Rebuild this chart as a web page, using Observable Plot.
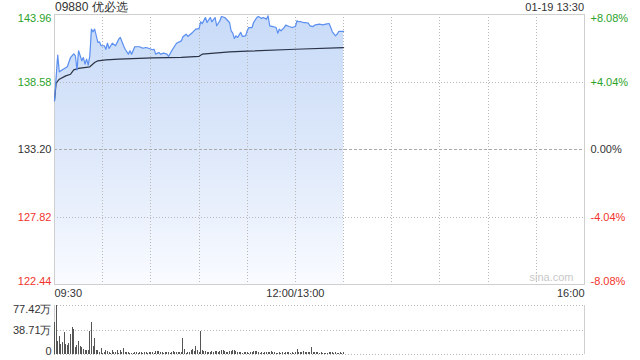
<!DOCTYPE html>
<html><head><meta charset="utf-8">
<script src="https://cdn.jsdelivr.net/npm/d3@7"></script>
<script src="https://cdn.jsdelivr.net/npm/@observablehq/plot@0.6"></script>
<style>
body{margin:0;background:#fff;font-family:"Liberation Sans",Arial,sans-serif;}
#wrap{position:relative;width:640px;height:360px;overflow:hidden;background:#fff;}
.t{position:absolute;color:#333;white-space:nowrap;line-height:14px}
#wrap svg{position:absolute;left:0}
</style></head><body><div id="wrap"></div>
<script>
// ---- data ----
const titleText = "09880 优必选";
const stampText = "01-19 13:30";
const prevClose = 133.20;
const priceTicks = [143.96, 138.58, 133.20, 127.82, 122.44];
const pctLabels = ["+8.08%", "+4.04%", "0.00%", "-4.04%", "-8.08%"];
const timeTicks = [0, 150, 330];
const timeLabels = ["09:30", "12:00/13:00", "16:00"];
const gridMinutes = [30, 60, 90, 120, 150, 180, 210, 240, 270, 300];
const volTicks = [77.42, 38.71, 0];
const volLabels = ["77.42万", "38.71万", "0"];

const priceMinutes = [0,2,3,5,8,10,12,13,14,15,17,18,19,20,21,22,23,24,25,27,28,29,31,32,33,34,36,38,40,41,43,44,46,47,48,50,53,55,57,59,61,62,63,65,66,68,70,71,73,76,79,80,82,83,86,88,90,91,92,94,95,97,98,100,101,103,104,106,109,110,111,112,113,114,116,117,119,120,121,123,124,126,127,129,130,132,133,134,136,138,139,140,141,143,144,146,148,150,151,152,153,155,156,158,159,161,162,165,167,169,171,172,173,175,176,177,180];
const prices = [137.08,140.72,139.39,139.55,139.79,140.53,140.83,140.67,139.55,141.07,140.27,140.53,140.00,140.40,139.92,140.67,142.79,142.58,142.79,141.73,141.78,141.47,141.47,141.19,141.67,141.25,141.67,141.47,141.99,142.13,141.47,141.19,140.80,141.07,140.80,141.39,141.39,141.27,141.33,141.25,141.15,141.19,140.80,140.93,140.80,140.88,140.80,140.61,141.07,141.67,141.86,142.18,142.39,142.21,142.53,142.79,142.84,143.38,143.24,143.72,143.32,143.72,143.38,143.72,143.06,143.46,143.80,143.72,143.32,142.66,142.47,142.05,142.26,142.13,142.53,142.21,142.26,142.66,142.92,142.92,143.32,143.72,143.80,143.64,143.72,143.59,143.86,143.06,143.00,142.92,142.47,142.79,142.66,142.92,143.11,143.00,142.92,143.00,143.46,143.38,143.40,143.32,143.32,143.27,143.06,143.00,143.11,143.19,143.14,143.19,143.24,142.92,142.58,142.26,142.39,142.61,142.61];

const avgMinutes = [0,1,3,7,10,12,15,22,25,27,32,40,61,79,90,92,109,120,150,180];
const avgPrices = [137.10,138.49,138.80,139.07,139.20,139.55,139.66,139.79,140.13,140.27,140.35,140.40,140.50,140.55,140.63,140.80,140.98,141.04,141.19,141.32];

// volume per minute, in 万 shares
const volumes = [51,77.4,21,28.5,15.8,19,35,15.8,13.7,18,31.6,42,39,11.6,14,21,12.6,11.6,7.4,6.3,6.3,6.3,36.9,51,12.6,25.3,6.3,6.3,3.2,9.5,2,3.7,6.3,5.3,3.7,2,6.3,3.7,3.7,6.3,2,6.3,3.7,9,
3.7,2.6,3,1.3,2.1,2,3.7,2.6,2.1,2.6,3.7,2.1,2.6,3.2,2.1,2.6,3.7,2.6,2.1,4.7,5.3,4.7,3.2,3.7,2.1,2.6,3.7,3.2,2.1,3.7,5.3,3.7,3.2,2.6,3.7,3.2,25.3,7.9,2.1,3.2,3.7,6.3,7.4,4.2,12.6,6.3,3.7,37,6.3,5.3,5.3,3.7,3.7,3.7,5.3,3.7,4.2,5.3,3.7,5.3,6.3,6.3,5.3,3.2,3.7,4.2,5.3,6.3,6.3,5.3,3.7,3.2,2.6,2.1,2.6,3.7,3.2,2.1,3.2,3.7,5.3,4.7,5.3,3.7,2.1,2.6,2.1,2.6,3.7,2.6,3.7,5.3,3.2,2.6,2.1,1.6,3.2,2.1,2.6,2.1,2.6,3.2,2.6,2.1,2.6,2.1,2.6,7.4,3.2,3.7,3.2,5.3,3.7,3.7,3.2,2.6,11,2.6,2.6,3.2,2.6,2.1,2.6,2.1,2.1,1.6,2.1,3.2,2.6,2.6,2.1,2.6,2.1,2.1,2.6,2.1,2.6];

// ---- build ----
const priceData = priceMinutes.map((m, i) => ({m, p: prices[i]}));
const avgData = avgMinutes.map((m, i) => ({m, p: avgPrices[i]}));
const yMin = priceTicks[priceTicks.length - 1], yMax = priceTicks[0];
const up = "#2ba32b", down = "#f0342c", flat = "#333";
const colorOf = v => v > prevClose + 1e-9 ? up : v < prevClose - 1e-9 ? down : flat;
const tickRows = priceTicks.map((v, i) => ({v, pct: pctLabels[i], i}));
const font = '"Liberation Sans", Arial, sans-serif';

const wrap = document.getElementById("wrap");
const title = document.createElement("div");
title.className = "t"; title.style.left = "55px"; title.style.top = "0px"; title.style.fontSize = "12px";
title.textContent = titleText; wrap.appendChild(title);
const stamp = document.createElement("div");
stamp.className = "t"; stamp.style.right = "56px"; stamp.style.top = "0px"; stamp.style.fontSize = "11px";
stamp.textContent = stampText; wrap.appendChild(stamp);

function labelMarks(rows, anchor, dx, textFn) {
  const n = rows.length;
  const ta = anchor === "left" ? "end" : "start";
  return [
    Plot.text(rows.filter(r => r.i === 0), {frameAnchor: anchor, y: "v", text: textFn, fill: r => colorOf(r.v), textAnchor: ta, dx, lineAnchor: "top"}),
    Plot.text(rows.filter(r => r.i > 0 && r.i < n - 1), {frameAnchor: anchor, y: "v", text: textFn, fill: r => colorOf(r.v), textAnchor: ta, dx, lineAnchor: "middle"}),
    Plot.text(rows.filter(r => r.i === n - 1), {frameAnchor: anchor, y: "v", text: textFn, fill: r => colorOf(r.v), textAnchor: ta, dx, lineAnchor: "bottom"})
  ];
}

const topChart = Plot.plot({
  width: 640, height: 300,
  marginLeft: 54, marginRight: 56, marginTop: 14, marginBottom: 16,
  x: {domain: [0, 330], axis: null},
  y: {domain: [yMin, yMax], axis: null},
  style: {fontFamily: font, fontSize: "11px", background: "transparent", overflow: "visible"},
  marks: [
    Plot.areaY(priceData, {x: "m", y1: () => yMin, y2: "p", fill: "url(#pgrad)"}),
    Plot.ruleX(gridMinutes, {stroke: "#b8b8b8", strokeDasharray: "1,2", shapeRendering: "crispEdges"}),
    Plot.ruleY(priceTicks.filter((v, i) => i > 0 && i < priceTicks.length - 1 && v !== prevClose), {stroke: "#b8b8b8", strokeDasharray: "1,2", shapeRendering: "crispEdges"}),
    Plot.ruleY([prevClose], {stroke: "#aaa", strokeDasharray: "3,2", shapeRendering: "crispEdges"}),
    Plot.frame({stroke: "#cfcfcf", shapeRendering: "crispEdges"}),
    Plot.line(avgData, {x: "m", y: "p", stroke: "#2b3346", strokeWidth: 1.2}),
    Plot.line(priceData, {x: "m", y: "p", stroke: "#5b8ff0", strokeWidth: 1.2}),
    ...labelMarks(tickRows, "left", -3, r => r.v.toFixed(2)),
    ...labelMarks(tickRows, "right", 6, r => r.pct),
    Plot.text([0], {x: d => timeTicks[d], frameAnchor: "bottom", dy: 9, text: d => timeLabels[d], textAnchor: "start", fill: "#333", lineAnchor: "middle"}),
    Plot.text([1], {x: d => timeTicks[d], frameAnchor: "bottom", dy: 9, text: d => timeLabels[d], textAnchor: "middle", fill: "#333", lineAnchor: "middle"}),
    Plot.text([2], {x: d => timeTicks[d], frameAnchor: "bottom", dy: 9, text: d => timeLabels[d], textAnchor: "end", fill: "#333", lineAnchor: "middle"}),
    Plot.text(["sina.com"], {frameAnchor: "bottom-right", dx: -11, dy: -7, text: d => d, fill: "#c8c8c8", lineAnchor: "middle"})
  ]
});
d3.select(topChart).insert("defs", ":first-child").html(
  '<linearGradient id="pgrad" x1="0" y1="0" x2="0" y2="1">' +
  '<stop offset="0" stop-color="#c8dbf8"/><stop offset="0.5" stop-color="#dde8fa"/><stop offset="1" stop-color="#f9fbff"/></linearGradient>');
topChart.style.top = "0px";
wrap.appendChild(topChart);

const volRows = volTicks.map((v, i) => ({v, label: volLabels[i], i}));
const volChart = Plot.plot({
  width: 640, height: 60,
  marginLeft: 54, marginRight: 56, marginTop: 5, marginBottom: 6,
  x: {domain: [0, 330], axis: null},
  y: {domain: [0, volTicks[0]], axis: null},
  style: {fontFamily: font, fontSize: "11px", background: "transparent", overflow: "visible"},
  marks: [
    Plot.ruleY(volTicks, {stroke: "#b8b8b8", strokeDasharray: "1,2", shapeRendering: "crispEdges"}),
    Plot.ruleX([0, 330], {stroke: "#cfcfcf", shapeRendering: "crispEdges"}),
    Plot.ruleX(volumes, {x: (d, i) => i, y1: () => 0, y2: d => d, stroke: "#555", strokeWidth: 1, shapeRendering: "crispEdges"}),
    Plot.text(volRows.filter(r => r.i === 0), {frameAnchor: "left", y: "v", text: "label", textAnchor: "end", dx: -3, lineAnchor: "top", fill: "#333"}),
    Plot.text(volRows.filter(r => r.i === 1), {frameAnchor: "left", y: "v", text: "label", textAnchor: "end", dx: -3, lineAnchor: "middle", fill: "#333"}),
    Plot.text(volRows.filter(r => r.i === 2), {frameAnchor: "left", y: "v", text: "label", textAnchor: "end", dx: -3, lineAnchor: "bottom", fill: "#333"})
  ]
});
volChart.style.top = "300px";
wrap.appendChild(volChart);
</script></body></html>
